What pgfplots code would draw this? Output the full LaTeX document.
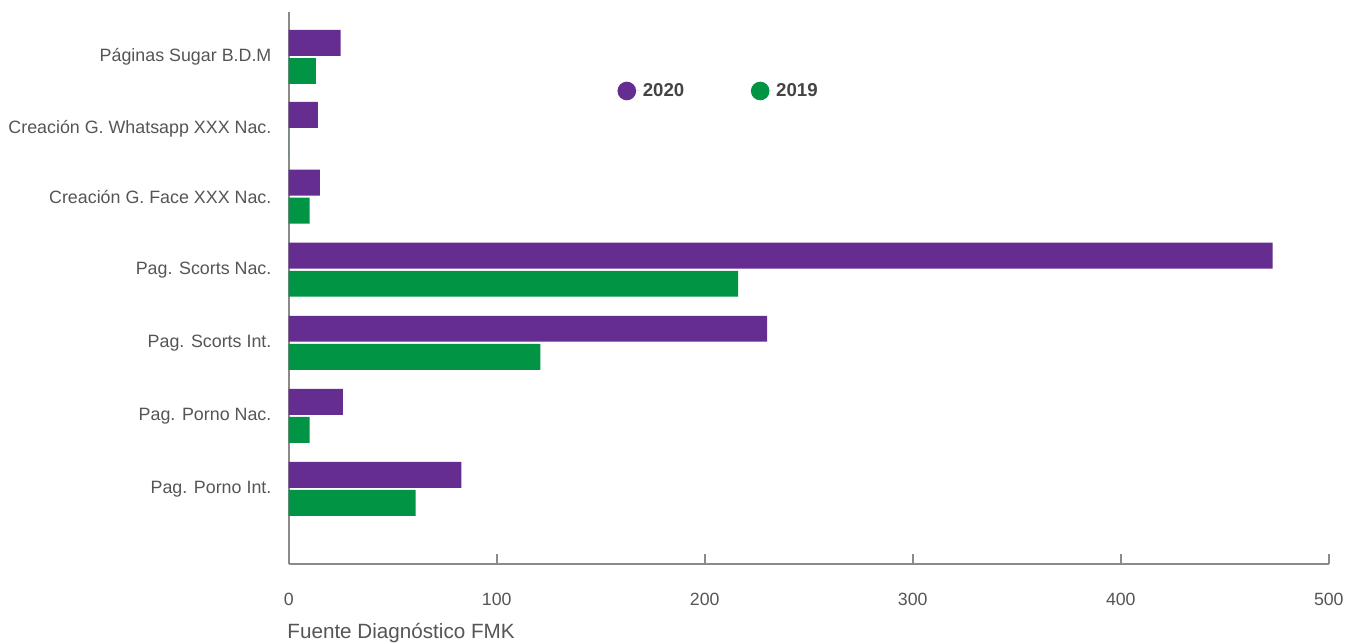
\documentclass[border=0pt]{standalone}
\usepackage{pgfplots}
\pgfplotsset{compat=1.18}
\usepackage{fontspec}
\setmainfont{Liberation Sans}
\definecolor{cpurple}{HTML}{662D91}
\definecolor{cgreen}{HTML}{009444}
\definecolor{caxis}{HTML}{8A8A8A}
\definecolor{ctext}{HTML}{555555}
\definecolor{clegend}{HTML}{444444}
\begin{document}
\begin{tikzpicture}[x=1pt,y=1pt]
\begin{axis}[
  scale only axis,
  width=780.75pt, height=414.75pt,
  at={(0pt,0pt)}, anchor=south west,
  xbar, bar width=0.36,
  xmin=0, xmax=500,
  ymin=-0.625, ymax=7.05,
  y dir=reverse,
  axis lines=left,
  axis line style={caxis, line width=1.5pt, -},
  xtick={0,100,200,300,400,500},
  ytick={0,1,1.94,2.955,3.97,4.985,6},
  yticklabels={Páginas Sugar B.D.M, Creación G. Whatsapp XXX Nac., Creación G. Face XXX Nac., Pag. Scorts Nac., Pag. Scorts Int., Pag. Porno Nac., Pag. Porno Int.},
  ytick style={draw=none},
  xtick style={caxis, line width=1.5pt},
  tick align=inside,
  major tick length=7.5pt,
  x tick label style={font=\fontsize{13.3}{15}\selectfont, text=ctext, yshift=-18pt},
  y tick label style={font=\fontsize{13.4}{15}\selectfont, text=ctext, xshift=-9.5pt},
  /pgf/number format/assume math mode=true,
  legend style={draw=none, fill=none, at={(0.312,0.857)}, anchor=west,
    font=\fontsize{14}{16}\selectfont\bfseries, text=clegend, legend columns=2,
    /tikz/every even column/.append style={column sep=48pt}},
  legend image code/.code={\fill[#1] (0pt,0pt) circle (7pt); \path (-7pt,0pt) -- (10pt,0pt);},
  clip=false,
]
\addplot[fill=cpurple, draw=none, bar shift=-0.195] coordinates {
 (25,0) (14,1) (15,1.94) (473,2.955) (230,3.97) (26,4.985) (83,6)};
\addplot[fill=cgreen, draw=none, bar shift=0.195] coordinates {
 (13,0) (0,1) (10,1.94) (216,2.955) (121,3.97) (10,4.985) (61,6)};
\legend{2020,2019}
\node[anchor=base west, font=\fontsize{15.5}{17}\selectfont, text=ctext, inner sep=0pt] at (rel axis cs:-0.0015,0) [yshift=-55.5pt] {Fuente Diagnóstico FMK};
\end{axis}
\path (-216.75pt,-58.5pt) rectangle (794.25pt,423.75pt);
\end{tikzpicture}
\end{document}
